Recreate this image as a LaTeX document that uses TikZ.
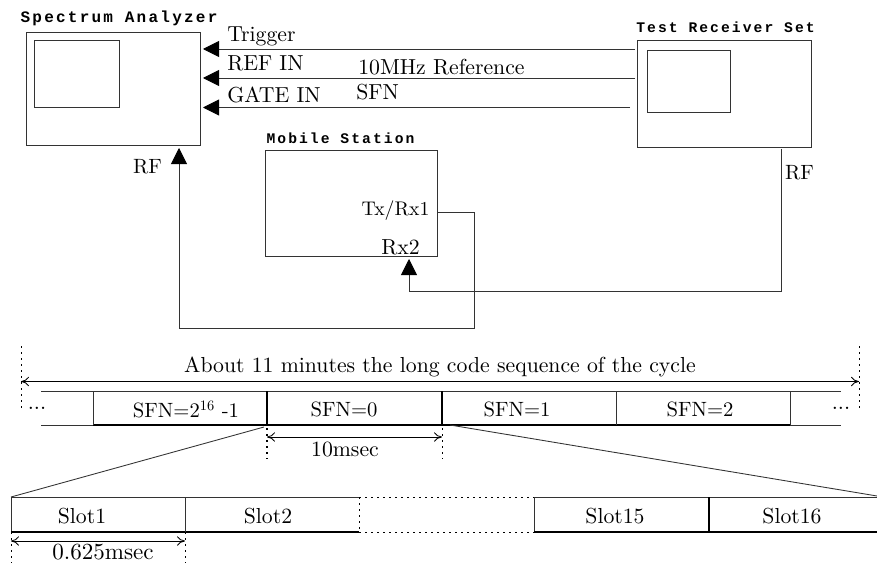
\documentclass[tikz,border=0pt]{standalone}
\usepackage{fontspec}
\usetikzlibrary{arrows.meta, positioning}
\newfontfamily\devicefont[LetterSpace=14]{Liberation Mono}
\newfontfamily\txtfont{lmroman10-regular.otf}
\tikzset{
    linecol/.style={draw=black!80},
    device/.style={draw=black!80, line width=0.65pt, minimum width=#1},
    titlelabel/.style={font=\devicefont\fontsize{12}{14}\selectfont\bfseries, inner sep=0pt},
    smalltitle/.style={font=\devicefont\fontsize{11}{13}\selectfont\bfseries, inner sep=0pt},
    txtlabel/.style={font=\txtfont\fontsize{16.3}{18}\selectfont, inner sep=0pt},
    sfnlabel/.style={font=\txtfont\fontsize{15.5}{18}\selectfont, inner sep=0pt},
    dotslabel/.style={font=\txtfont\fontsize{16.5}{18}\selectfont\bfseries, inner sep=0pt},
    feed/.style={line width=0.65pt, draw=black!80, -{Triangle[length=12pt,width=12pt,fill=black,color=black]}},
    span/.style={line width=0.6pt, {To[length=6pt,width=7pt]}-{To[length=6pt,width=7pt]}},
    guide/.style={line width=0.7pt, dash pattern=on 1.5pt off 3pt},
}
\begin{document}
\begin{tikzpicture}[x=0.75pt, y=-0.75pt]
    \useasboundingbox (0,0) rectangle (877,563);

    % Instruments
    \node[device=130.5pt, minimum height=84.75pt, inner sep=0pt] (spectrum) at (113,88.5) {};
    \node[device=63.5pt, minimum height=50.5pt, inner sep=0pt] (spectrumscreen) at (76.7,74.2) {};
    \node[device=130.5pt, minimum height=80.5pt, inner sep=0pt] (receiver) at (724.5,94.2) {};
    \node[device=62.5pt, minimum height=47pt, inner sep=0pt] (receiverscreen) at (689,81.5) {};
    \node[device=129.5pt, minimum height=80pt, inner sep=0pt] (mobile) at (351.5,203.5) {};

    \node[titlelabel] (spectrumtitle) at (119,18) {Spectrum Analyzer};
    \node[smalltitle] (receivertitle) at (725.5,27) {Test Receiver Set};
    \node[smalltitle] (mobiletitle) at (340.5,138) {Mobile Station};

    % Trigger, reference and gate lines
    \coordinate (triggerend) at (635,49);
    \coordinate (refend) at (635,78);
    \coordinate (gateend) at (630,107.5);
    \coordinate (triggertip) at (203,49);
    \coordinate (reftip) at (203,78);
    \coordinate (gatetip) at (203,107.5);
    \draw[feed] (triggerend) -- (triggertip);
    \draw[feed] (refend) -- (reftip);
    \draw[feed] (gateend) -- (gatetip);
    \node[txtlabel, anchor=west] (trigger) at (227,36) {Trigger};
    \node[txtlabel, anchor=west] (refin) at (227,63) {REF IN};
    \node[txtlabel, anchor=west] (gatein) at (227,95) {GATE IN};
    \node[txtlabel, anchor=west] (tenmhz) at (358,67) {10MHz Reference};
    \node[txtlabel, anchor=west] (sfnline) at (356,92) {SFN};

    % RF paths
    \coordinate (txport) at (438,212);
    \coordinate (txright) at (474.5,212);
    \coordinate (txdown) at (474.5,328);
    \coordinate (rfturn) at (179,328);
    \coordinate (rftip) at (179,148);
    \coordinate (rxtip) at (409,259);
    \coordinate (rxturn) at (409,291);
    \coordinate (rcvturn) at (781,291);
    \coordinate (rcvport) at (781,149);
    \draw[feed] (txport) -- (txright) -- (txdown) -- (rfturn) -- (rftip);
    \draw[feed] (rcvport) -- (rcvturn) -- (rxturn) -- (rxtip);
    \node[sfnlabel] (rfleft) at (147.5,167) {RF};
    \node[sfnlabel] (rfright) at (799.5,173) {RF};
    \node[sfnlabel, font=\txtfont\fontsize{14.8}{18}\selectfont] (txrx) at (395.5,211) {Tx/Rx1};
    \node[txtlabel] (rxtwo) at (400.5,247) {Rx2};

    % Long code cycle
    \node[txtlabel] (cycle) at (440,367) {About 11 minutes the long code sequence of the cycle};
    \coordinate (cycleleft) at (21,381.5);
    \coordinate (cycleright) at (859,381.5);
    \draw[span] (cycleleft) -- (cycleright);
    \draw[guide] (21,346) -- (21,410);
    \draw[guide] (859,346) -- (859,410);
    \node[dotslabel] (dotsleft) at (37,408) {...};
    \node[dotslabel] (dotsright) at (841,408) {...};

    % SFN frames
    \draw[linecol, line width=0.65pt] (41,391) -- (841,391);
    \draw[linecol, line width=0.65pt] (41,425) -- (841,425);
    \draw[line width=0.9pt] (93,425) -- (790,425);
    \foreach \x in {93,616,790} \draw[linecol, line width=0.65pt] (\x,391) -- (\x,425);
    \foreach \x in {267,442} \draw[line width=1.3pt] (\x,391) -- (\x,425);
    \node[sfnlabel] (sfnlast) at (186,409) {SFN=2\textsuperscript{16} -1};
    \node[sfnlabel] (sfnzero) at (344,409) {SFN=0};
    \node[sfnlabel] (sfnone) at (517,409) {SFN=1};
    \node[sfnlabel] (sfntwo) at (700,409) {SFN=2};

    % 10 msec span
    \coordinate (frameleft) at (267,437);
    \coordinate (frameright) at (442,437);
    \draw[span] (frameleft) -- (frameright);
    \draw[guide, line width=1.2pt] (267,428) -- (267,459);
    \draw[guide] (442,428) -- (442,459);
    \node[txtlabel] (tenmsec) at (345,449) {10msec};

    % Zoom into slots
    \coordinate (zoomleft) at (264,427);
    \coordinate (zoomright) at (450,425);
    \coordinate (slotleft) at (11,497);
    \coordinate (slotright) at (877,496);
    \draw[linecol, line width=0.65pt] (zoomleft) -- (slotleft);
    \draw[linecol, line width=0.65pt] (zoomright) -- (slotright);

    % Slots
    \draw[linecol, line width=0.65pt] (359,497) -- (11,497) -- (11,532);
    \draw[line width=0.9pt] (11,532) -- (359,532);
    \draw[linecol, line width=0.65pt] (877,497) -- (534,497) -- (534,532);
    \draw[line width=1pt] (534,532) -- (877,532);
    \draw[linecol, line width=0.65pt] (185,497) -- (185,532);
    \draw[line width=1.3pt] (709,497) -- (709,532);
    \draw[guide] (359,497) -- (534,497);
    \draw[guide] (359,532) -- (534,532);
    \draw[guide] (359,497) -- (359,532);
    \node[txtlabel] (slotone) at (82,516) {Slot1};
    \node[txtlabel] (slottwo) at (268,516) {Slot2};
    \node[txtlabel] (slotfifteen) at (615,516) {Slot15};
    \node[txtlabel] (slotsixteen) at (792,516) {Slot16};

    % 0.625 msec span
    \coordinate (slotspanleft) at (11,541);
    \coordinate (slotspanright) at (185,541);
    \draw[span] (slotspanleft) -- (slotspanright);
    \draw[guide] (11,532) -- (11,563);
    \draw[guide] (185,532) -- (185,563);
    \node[txtlabel, font=\txtfont\fontsize{17.3}{18}\selectfont] (slotmsec) at (103,552) {0.625msec};
\end{tikzpicture}
\end{document}
